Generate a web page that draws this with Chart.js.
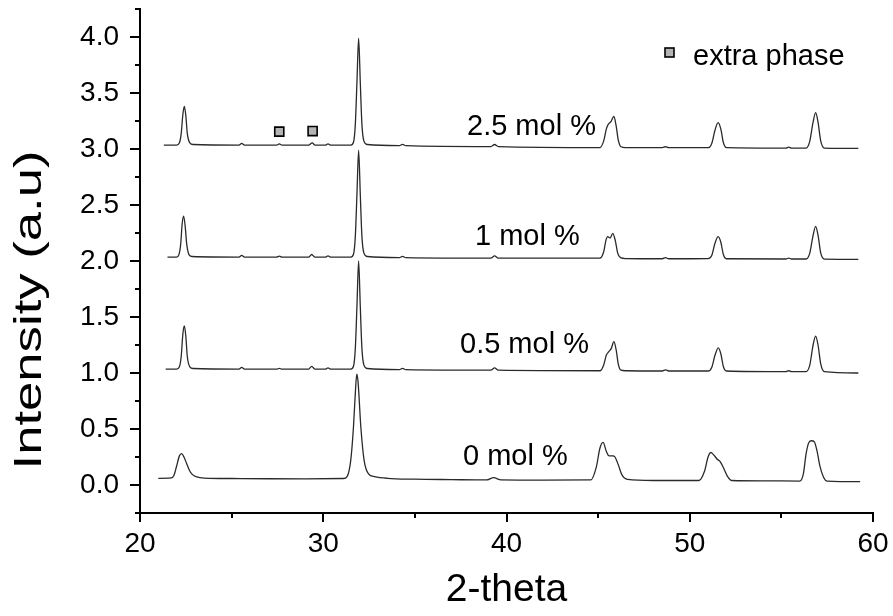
<!DOCTYPE html>
<html>
<head>
<meta charset="utf-8">
<script src="https://cdn.jsdelivr.net/npm/chart.js@4.4.1/dist/chart.umd.min.js"></script>
<style>
  html, body { margin: 0; padding: 0; background: #fff; overflow: hidden; }
  canvas { display: block; }
</style>
</head>
<body>
<canvas id="c" width="893" height="616"></canvas>
<script>
// ---------- DATA ----------
const seriesNames = ["0 mol %", "0.5 mol %", "1 mol %", "2.5 mol %"];

const pattern0 = [
  [21.0,0.06],[21.7,0.063],[21.85,0.085],[22.0,0.17],[22.15,0.26],[22.27,0.28],[22.4,0.25],[22.55,0.19],[22.7,0.13],[22.85,0.095],[23.1,0.072],[23.5,0.062],
  [25.0,0.058],[27.0,0.056],[29.0,0.055],[31.1,0.058],
  [31.3,0.075],[31.5,0.22],[31.65,0.52],[31.76,0.85],[31.83,0.99],[31.9,0.92],[32.05,0.52],[32.23,0.22],[32.47,0.1],[32.8,0.075],[33.5,0.06],
  [35.0,0.052],[37.0,0.048],[38.9,0.045],[39.3,0.065],[39.7,0.045],[42.0,0.043],
  [44.6,0.045],[44.9,0.16],[45.1,0.33],[45.27,0.38],[45.45,0.30],[45.6,0.26],[45.8,0.26],[45.92,0.25],[46.1,0.18],[46.3,0.09],[46.6,0.05],
  [48.0,0.04],[50.5,0.04],[50.8,0.12],[51.0,0.25],[51.15,0.29],[51.3,0.27],[51.5,0.23],[51.65,0.21],[51.85,0.15],[52.05,0.08],[52.3,0.04],
  [54.0,0.037],[56.0,0.035],[56.2,0.1],[56.35,0.28],[56.5,0.38],[56.65,0.395],[56.8,0.385],[56.95,0.3],[57.1,0.17],[57.3,0.07],[57.5,0.035],
  [59.3,0.03]
];

const pattern05 = [
  [21.4,1.035],[22.0,1.035],[22.15,1.055],[22.25,1.15],[22.34,1.35],[22.42,1.42],[22.5,1.33],[22.58,1.15],[22.72,1.055],[22.9,1.04],
  [25.4,1.035],[25.55,1.05],[25.7,1.035],
  [27.45,1.034],[27.6,1.042],[27.75,1.034],
  [29.2,1.034],[29.37,1.06],[29.55,1.034],
  [30.1,1.034],[30.26,1.045],[30.4,1.034],
  [31.5,1.035],[31.65,1.06],[31.75,1.22],[31.84,1.6],[31.93,2.0],[32.02,1.6],[32.11,1.22],[32.22,1.07],[32.4,1.04],
  [34.15,1.03],[34.33,1.042],[34.5,1.03],
  [39.15,1.025],[39.35,1.045],[39.55,1.025],
  [45.1,1.02],[45.3,1.07],[45.45,1.16],[45.58,1.19],[45.72,1.22],[45.86,1.28],[45.98,1.21],[46.1,1.08],[46.25,1.025],[46.5,1.02],
  [48.5,1.018],[48.68,1.028],[48.85,1.018],
  [51.0,1.018],[51.2,1.05],[51.38,1.16],[51.56,1.225],[51.7,1.17],[51.83,1.06],[52.0,1.018],
  [55.25,1.012],[55.4,1.02],[55.55,1.012],
  [56.35,1.012],[56.55,1.07],[56.72,1.24],[56.87,1.33],[57.0,1.25],[57.15,1.08],[57.35,1.012],
  [59.2,1.0]
];

const pattern1 = [
  [21.5,2.035],[22.0,2.035],[22.12,2.055],[22.22,2.15],[22.3,2.33],[22.38,2.40],[22.46,2.32],[22.55,2.15],[22.68,2.055],[22.85,2.04],
  [25.4,2.035],[25.55,2.05],[25.7,2.035],
  [27.45,2.034],[27.6,2.044],[27.75,2.034],
  [29.2,2.034],[29.37,2.058],[29.55,2.034],
  [30.1,2.034],[30.26,2.045],[30.4,2.034],
  [31.5,2.035],[31.65,2.06],[31.75,2.22],[31.84,2.6],[31.93,2.99],[32.02,2.6],[32.11,2.22],[32.22,2.07],[32.4,2.04],
  [34.15,2.03],[34.33,2.042],[34.5,2.03],
  [39.15,2.025],[39.35,2.045],[39.55,2.025],
  [45.1,2.025],[45.3,2.08],[45.42,2.18],[45.52,2.217],[45.65,2.205],[45.8,2.247],[45.94,2.18],[46.07,2.07],[46.25,2.027],[46.5,2.022],
  [48.5,2.02],[48.68,2.03],[48.85,2.02],
  [51.0,2.022],[51.2,2.05],[51.38,2.16],[51.55,2.217],[51.7,2.165],[51.83,2.06],[52.0,2.02],
  [55.25,2.018],[55.4,2.026],[55.55,2.018],
  [56.35,2.018],[56.55,2.07],[56.72,2.22],[56.87,2.31],[57.0,2.23],[57.15,2.07],[57.35,2.017],
  [59.2,2.015]
];

const pattern25 = [
  [21.3,3.035],[22.0,3.035],[22.15,3.055],[22.25,3.14],[22.34,3.31],[22.42,3.38],[22.5,3.3],[22.58,3.14],[22.72,3.055],[22.9,3.04],
  [25.4,3.035],[25.55,3.05],[25.7,3.035],
  [27.45,3.034],[27.6,3.046],[27.75,3.034],
  [29.2,3.034],[29.4,3.055],[29.55,3.034],
  [30.1,3.034],[30.26,3.045],[30.4,3.034],
  [31.5,3.035],[31.65,3.06],[31.75,3.22],[31.84,3.6],[31.93,3.99],[32.02,3.6],[32.11,3.22],[32.22,3.07],[32.4,3.04],
  [34.15,3.03],[34.33,3.042],[34.5,3.03],
  [39.15,3.022],[39.35,3.04],[39.55,3.022],
  [45.1,3.013],[45.3,3.07],[45.45,3.18],[45.55,3.22],[45.7,3.245],[45.86,3.29],[45.98,3.21],[46.1,3.08],[46.25,3.02],[46.5,3.012],
  [48.5,3.012],[48.68,3.02],[48.85,3.012],
  [51.0,3.012],[51.2,3.05],[51.38,3.17],[51.55,3.235],[51.7,3.175],[51.83,3.06],[52.0,3.012],
  [55.25,3.008],[55.4,3.016],[55.55,3.008],
  [56.35,3.008],[56.55,3.07],[56.72,3.23],[56.87,3.324],[57.0,3.24],[57.15,3.07],[57.35,3.008],
  [59.2,3.005]
];

// extra-phase markers
const extraX = [27.6, 29.42];
const extraY = [3.155, 3.16];
const legendText = "extra phase";

// axes
const xTickLabels = [20, 30, 40, 50, 60];
const xMinorTicks = [25, 35, 45, 55];
const yTickLabels = [0.0, 0.5, 1.0, 1.5, 2.0, 2.5, 3.0, 3.5, 4.0];
const yMinorTicks = [-0.25, 0.25, 0.75, 1.25, 1.75, 2.25, 2.75, 3.25, 3.75, 4.25];
const xTitle = "2-theta";
const yTitle = "Intensity (a.u)";

// ---------- CHART ----------
const FONT = "'Liberation Sans', Arial, sans-serif";
const toXY = arr => arr.map(p => ({x: p[0], y: p[1]}));
const patterns = [pattern0, pattern05, pattern1, pattern25];

const lineSets = patterns.map((p, i) => ({
  label: seriesNames[i],
  data: toXY(p),
  showLine: true,
  borderColor: '#2a2a2a',
  borderWidth: 1.3,
  pointRadius: 0,
  fill: false,
  cubicInterpolationMode: 'monotone'
}));

const markerSet = {
  label: legendText,
  data: extraX.map((x, i) => ({x: x, y: extraY[i]})),
  showLine: false,
  pointStyle: 'rect',
  pointRadius: 6.4,
  pointHoverRadius: 6.4,
  backgroundColor: '#b4b4b4',
  borderColor: '#000',
  borderWidth: 1.6
};

const decorPlugin = {
  id: 'decor',
  afterDraw(chart) {
    const ctx = chart.ctx;
    const xs = chart.scales.x, ys = chart.scales.y;
    const area = chart.chartArea;
    ctx.save();
    ctx.strokeStyle = '#000';
    ctx.lineWidth = 2;
    // y ticks (outward, left)
    const ax = area.left;
    yTickLabels.forEach(v => {
      const py = Math.round(ys.getPixelForValue(v)) + 0.0;
      ctx.beginPath(); ctx.moveTo(ax - 10, py); ctx.lineTo(ax, py); ctx.stroke();
    });
    yMinorTicks.forEach(v => {
      const py = Math.round(ys.getPixelForValue(v));
      ctx.beginPath(); ctx.moveTo(ax - 5, py); ctx.lineTo(ax, py); ctx.stroke();
    });
    // x ticks (outward, down)
    const ay = area.bottom;
    xTickLabels.forEach(v => {
      const px = Math.round(xs.getPixelForValue(v));
      ctx.beginPath(); ctx.moveTo(px, ay); ctx.lineTo(px, ay + 9); ctx.stroke();
    });
    xMinorTicks.forEach(v => {
      const px = Math.round(xs.getPixelForValue(v));
      ctx.beginPath(); ctx.moveTo(px, ay); ctx.lineTo(px, ay + 5); ctx.stroke();
    });

    // series labels
    ctx.fillStyle = '#000';
    ctx.font = "29px " + FONT;
    ctx.textAlign = 'left';
    ctx.textBaseline = 'middle';
    const labelPos = [[463, 457], [460, 345], [475, 237], [467, 127]];
    seriesNames.forEach((s, i) => ctx.fillText(s, labelPos[i][0], labelPos[i][1]));

    // legend
    ctx.fillStyle = '#b4b4b4';
    ctx.fillRect(665, 48, 9, 9);
    ctx.lineWidth = 1.6;
    ctx.strokeRect(665, 48, 9, 9);
    ctx.fillStyle = '#000';
    ctx.textBaseline = 'alphabetic';
    ctx.fillText(legendText, 693, 65);

    // y title (stretched along its direction, as in the reference)
    ctx.translate(30, 310);
    ctx.rotate(-Math.PI / 2);
    ctx.scale(1.35, 1);
    ctx.font = "39px " + FONT;
    ctx.textAlign = 'center';
    ctx.textBaseline = 'middle';
    ctx.fillText(yTitle, 0, 0);
    ctx.restore();
  }
};

new Chart(document.getElementById('c'), {
  type: 'scatter',
  data: { datasets: [...lineSets, markerSet] },
  options: {
    responsive: false,
    animation: false,
    events: [],
    layout: { padding: { left: 0, right: 20, top: 9, bottom: 0 } },
    plugins: { legend: { display: false }, tooltip: { enabled: false } },
    scales: {
      x: {
        type: 'linear',
        min: 20, max: 60,
        grid: { display: false, drawTicks: false },
        border: { display: true, color: '#000', width: 2 },
        afterBuildTicks: s => { s.ticks = xTickLabels.map(v => ({ value: v })); },
        afterFit: s => { s.height = 103; s.paddingLeft = 0; s.paddingRight = 0; },
        ticks: {
          color: '#000',
          font: { family: FONT, size: 28 },
          padding: 14,
          maxRotation: 0,
          callback: v => String(v)
        },
        title: {
          display: true,
          text: xTitle,
          color: '#000',
          font: { family: FONT, size: 39 },
          padding: { top: 0, bottom: 2 }
        }
      },
      y: {
        type: 'linear',
        min: -0.25, max: 4.25,
        grid: { display: false, drawTicks: false },
        border: { display: true, color: '#000', width: 2 },
        afterBuildTicks: s => { s.ticks = yTickLabels.map(v => ({ value: v })); },
        afterFit: s => { s.width = 140; s.paddingTop = 0; s.paddingBottom = 0; },
        ticks: {
          color: '#000',
          font: { family: FONT, size: 28 },
          padding: 21,
          callback: v => Number(v).toFixed(1)
        },
        title: { display: false }
      }
    }
  },
  plugins: [decorPlugin]
});
</script>
</body>
</html>
